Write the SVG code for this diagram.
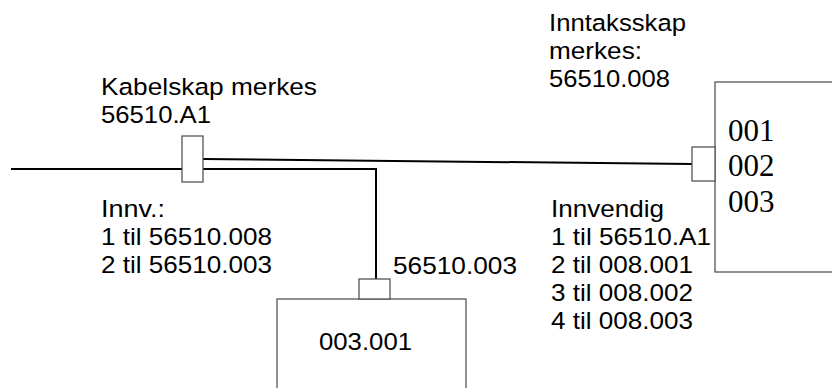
<svg xmlns="http://www.w3.org/2000/svg" width="832" height="388" viewBox="0 0 832 388">
<style>
.t{font-family:"Liberation Sans",Arial,sans-serif;font-size:24.5px;fill:#000}
.s{font-family:"Liberation Serif","Times New Roman",serif;font-size:31px;fill:#000}
.box{fill:#fff;stroke:#555;stroke-width:1.3}
.w{fill:none;stroke:#000;stroke-width:2}
</style>
<rect width="832" height="388" fill="#fff"/>
<g id="connectors">
<line class="w" x1="11" y1="169" x2="182" y2="169"/>
<line class="w" x1="203" y1="159" x2="692" y2="164"/>
<polyline class="w" points="203,169 376,169 376,279"/>
</g>
<g id="kabelskap">
<rect class="box" x="182" y="136" width="21" height="46"/>
<text class="t" x="101" y="95" textLength="216" lengthAdjust="spacingAndGlyphs">Kabelskap merkes</text>
<text class="t" x="101" y="123" textLength="110" lengthAdjust="spacingAndGlyphs">56510.A1</text>
<text class="t" x="101" y="217" textLength="64" lengthAdjust="spacingAndGlyphs">Innv.:</text>
<text class="t" x="101" y="245" textLength="171" lengthAdjust="spacingAndGlyphs">1 til 56510.008</text>
<text class="t" x="101" y="273" textLength="171" lengthAdjust="spacingAndGlyphs">2 til 56510.003</text>
</g>
<g id="inntaksskap">
<rect class="box" x="715" y="82" width="130" height="190"/>
<rect class="box" x="692" y="147" width="23" height="34"/>
<text class="s" x="728" y="141">001</text>
<text class="s" x="728" y="176">002</text>
<text class="s" x="728" y="212">003</text>
<text class="t" x="549" y="31" textLength="137" lengthAdjust="spacingAndGlyphs">Inntaksskap</text>
<text class="t" x="549" y="59" textLength="93" lengthAdjust="spacingAndGlyphs">merkes:</text>
<text class="t" x="549" y="87" textLength="121" lengthAdjust="spacingAndGlyphs">56510.008</text>
<text class="t" x="551" y="216.5" textLength="113" lengthAdjust="spacingAndGlyphs">Innvendig</text>
<text class="t" x="551" y="244.5" textLength="160" lengthAdjust="spacingAndGlyphs">1 til 56510.A1</text>
<text class="t" x="551" y="272.5" textLength="142" lengthAdjust="spacingAndGlyphs">2 til 008.001</text>
<text class="t" x="551" y="300.5" textLength="142" lengthAdjust="spacingAndGlyphs">3 til 008.002</text>
<text class="t" x="551" y="328.5" textLength="142" lengthAdjust="spacingAndGlyphs">4 til 008.003</text>
</g>
<g id="node003">
<rect class="box" x="277" y="299" width="189" height="100"/>
<rect class="box" x="359" y="279" width="31" height="20"/>
<text class="t" x="393" y="274" textLength="124" lengthAdjust="spacingAndGlyphs">56510.003</text>
<text class="t" x="319" y="350" textLength="93" lengthAdjust="spacingAndGlyphs">003.001</text>
</g>
</svg>
